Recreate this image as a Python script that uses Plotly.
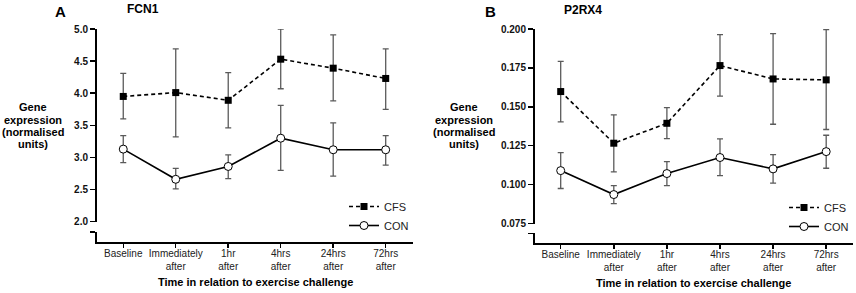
import plotly.graph_objects as go

W, H = 856, 293

categories = ["Baseline", "Immediately<br>after", "1hr<br>after", "4hrs<br>after", "24hrs<br>after", "72hrs<br>after"]
xpos = list(range(len(categories)))
series_names = ["CFS", "CON"]

# Panel A: FCN1
fcn1_cfs_mean = [3.95, 4.01, 3.89, 4.53, 4.39, 4.23]
fcn1_cfs_upper = [4.31, 4.69, 4.32, 5.00, 4.91, 4.69]
fcn1_cfs_lower = [3.60, 3.32, 3.46, 4.07, 3.88, 3.75]
fcn1_con_mean = [3.13, 2.66, 2.86, 3.30, 3.12, 3.12]
fcn1_con_upper = [3.34, 2.83, 3.04, 3.81, 3.54, 3.34]
fcn1_con_lower = [2.92, 2.51, 2.67, 2.80, 2.71, 2.88]
fcn1_ticks = [2.0, 2.5, 3.0, 3.5, 4.0, 4.5, 5.0]

# Panel B: P2RX4
p2rx4_cfs_mean = [0.1598, 0.1266, 0.1394, 0.1765, 0.1679, 0.1673]
p2rx4_cfs_upper = [0.1792, 0.1448, 0.1495, 0.1964, 0.1970, 0.1996]
p2rx4_cfs_lower = [0.1403, 0.1082, 0.1296, 0.1568, 0.1388, 0.1354]
p2rx4_con_mean = [0.1090, 0.0936, 0.1071, 0.1174, 0.1101, 0.1212]
p2rx4_con_upper = [0.1206, 0.0994, 0.1148, 0.1294, 0.1193, 0.1317]
p2rx4_con_lower = [0.0975, 0.0878, 0.0994, 0.1058, 0.1009, 0.1105]
p2rx4_ticks = [0.075, 0.100, 0.125, 0.150, 0.175, 0.200]

ytitle_lines = ["Gene", "expression", "(normalised", "units)"]
xtitle = "Time in relation to exercise challenge"

FONT = "Liberation Sans, Arial, sans-serif"
ERR_COLOR = "#5a5a5a"


def px_x(p):
    return p / W


def px_y(p):
    return 1 - p / H


def err(mean, upper, lower):
    return dict(type="data", symmetric=False,
                array=[u - m for u, m in zip(upper, mean)],
                arrayminus=[m - l for m, l in zip(mean, lower)],
                color=ERR_COLOR, thickness=1.3, width=3)


fig = go.Figure()


def add_panel(xa, ya, ystub, legend, cfs, con):
    (cm, cu, cl), (om, ou, ol) = cfs, con
    fig.add_trace(go.Scatter(
        x=xpos, y=cm, name=series_names[0], mode="lines+markers",
        xaxis=xa, yaxis=ya, legend=legend, cliponaxis=False,
        line=dict(color="black", width=1.6, dash="4px,3px"),
        marker=dict(symbol="square", size=7, color="black"),
        error_y=err(cm, cu, cl)))
    fig.add_trace(go.Scatter(
        x=xpos, y=om, name=series_names[1], mode="lines+markers",
        xaxis=xa, yaxis=ya, legend=legend, cliponaxis=False,
        line=dict(color="black", width=1.6),
        marker=dict(symbol="circle", size=8, color="white",
                    line=dict(color="black", width=1)),
        error_y=err(om, ou, ol)))
    # empty trace so the axis-break stub subplot exists
    fig.add_trace(go.Scatter(x=[], y=[], xaxis=xa, yaxis=ystub, showlegend=False,
                             mode="markers"))


add_panel("x", "y", "y3", "legend",
          (fcn1_cfs_mean, fcn1_cfs_upper, fcn1_cfs_lower),
          (fcn1_con_mean, fcn1_con_upper, fcn1_con_lower))
add_panel("x2", "y2", "y4", "legend2",
          (p2rx4_cfs_mean, p2rx4_cfs_upper, p2rx4_cfs_lower),
          (p2rx4_con_mean, p2rx4_con_upper, p2rx4_con_lower))

tickfont_y = dict(family=FONT, size=10, color="#111", weight="bold")
tickfont_x = dict(family=FONT, size=10, color="#222")


def xaxis(dom, rng, anchor):
    return dict(domain=dom, range=rng, anchor=anchor, tickvals=xpos,
                ticktext=categories, ticks="outside", ticklen=4, tickwidth=1.5,
                tickcolor="black", showline=True, linewidth=2, linecolor="black",
                showgrid=False, zeroline=False, tickfont=tickfont_x, fixedrange=True,
                ticklabelstandoff=-3)


def yaxis_main(dom, rng, anchor, tickvals, fmt):
    return dict(domain=dom, range=rng, anchor=anchor, tickvals=tickvals,
                tickformat=fmt, ticks="outside", ticklen=5, tickwidth=1.5,
                tickcolor="black", showline=True, linewidth=2, linecolor="black",
                showgrid=False, zeroline=False, tickfont=tickfont_y, fixedrange=True)


def yaxis_stub(dom, anchor):
    return dict(domain=dom, range=[0, 1], anchor=anchor, tickvals=[1],
                showticklabels=False, ticks="outside", ticklen=5, tickwidth=1.5,
                tickcolor="black", showline=True, linewidth=2, linecolor="black",
                showgrid=False, zeroline=False, fixedrange=True)


legend_font = dict(family=FONT, size=11, color="#222")
layout = dict(
    width=W, height=H, margin=dict(l=0, r=0, t=0, b=0, autoexpand=False),
    paper_bgcolor="white", plot_bgcolor="white",
    font=dict(family=FONT, color="black"),
    hovermode=False,
    xaxis=xaxis([px_x(97), px_x(413)], [-0.50, 5.52], "y3"),
    yaxis=yaxis_main([px_y(221.7), px_y(29)], [fcn1_ticks[0], fcn1_ticks[-1]], "x",
                     fcn1_ticks, ".1f"),
    yaxis3=yaxis_stub([px_y(242), px_y(232)], "x"),
    xaxis2=xaxis([px_x(535), px_x(853)], [-0.484, 5.505], "y4"),
    yaxis2=yaxis_main([px_y(223.5), px_y(29)], [p2rx4_ticks[0], p2rx4_ticks[-1]], "x2",
                      p2rx4_ticks, ".3f"),
    yaxis4=yaxis_stub([px_y(243.3), px_y(233.3)], "x2"),
    legend=dict(x=px_x(344), y=px_y(192), xanchor="left", yanchor="top",
                bgcolor="rgba(0,0,0,0)", font=legend_font, itemwidth=30, tracegroupgap=0),
    legend2=dict(x=px_x(784), y=px_y(193), xanchor="left", yanchor="top",
                 bgcolor="rgba(0,0,0,0)", font=legend_font, itemwidth=30, tracegroupgap=0),
)
fig.update_layout(**layout)

annotations = [
    dict(text="<b>A</b>", x=px_x(61), y=px_y(12), font=dict(size=15)),
    dict(text="<b>FCN1</b>", x=px_x(143), y=px_y(9), font=dict(size=12)),
    dict(text="<b>B</b>", x=px_x(490), y=px_y(12), font=dict(size=15)),
    dict(text="<b>P2RX4</b>", x=px_x(583), y=px_y(10), font=dict(size=12)),
    dict(text="<b>" + xtitle + "</b>", x=px_x(255), y=px_y(282), font=dict(size=11)),
    dict(text="<b>" + xtitle + "</b>", x=px_x(693), y=px_y(283), font=dict(size=11)),
]
line_y = [107.3, 119.7, 132.0, 144.3]
for cx in (33, 464):
    for txt, ly in zip(ytitle_lines, line_y):
        annotations.append(dict(text="<b>" + txt + "</b>", x=px_x(cx), y=px_y(ly),
                                font=dict(size=11)))
for a in annotations:
    a.update(xref="paper", yref="paper", showarrow=False, xanchor="center", yanchor="middle")
    a["font"].update(family=FONT, color="black")
fig.update_layout(annotations=annotations)

fig.write_html("out.html", config={"displayModeBar": False, "staticPlot": True},
               post_script="document.body.style.margin='0';document.body.style.overflow='hidden';")
